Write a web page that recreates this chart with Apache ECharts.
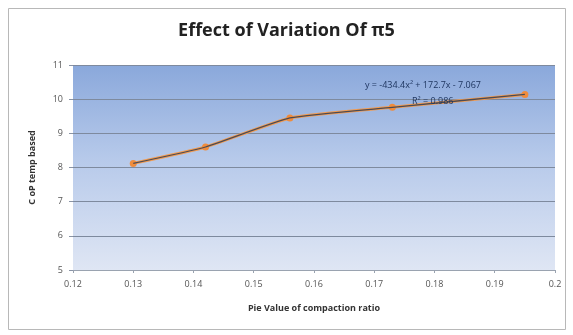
<!DOCTYPE html>
<html>
<head>
<meta charset="utf-8">
<script src="https://cdn.jsdelivr.net/npm/echarts@6/dist/echarts.min.js"></script>
<style>
  html, body { margin:0; padding:0; background:#fff; }
  #chart { width:573px; height:335px; }
</style>
</head>
<body>
<div id="chart"></div>
<script>
// compaction ratio (pi value) vs C oP temp based
var piValues = [0.130, 0.142, 0.156, 0.173, 0.195];
var copValues = [8.12, 8.60, 9.45, 9.76, 10.14];

var xTicks = [0.12, 0.13, 0.14, 0.15, 0.16, 0.17, 0.18, 0.19, 0.2];
var yTicks = [5, 6, 7, 8, 9, 10, 11];

var pairs = [];
for (var i = 0, l = piValues.length; i < l; i++) {
  pairs.push([piValues[i], copValues[i]]);
}

var myChart = echarts.init(document.getElementById('chart'));

var option = {
  backgroundColor: '#fff',
  animation: false,
  textStyle: { fontFamily: 'Open Sans' },
  title: {
    text: 'Effect of Variation Of \u03c05',
    left: 'center',
    top: 17,
    textStyle: { fontSize: 18, fontWeight: 'bold', color: '#222', fontFamily: 'Open Sans' }
  },
  graphic: [
    {
      type: 'rect',
      shape: { x: 8.5, y: 8.5, width: 557, height: 321 },
      style: { fill: 'none', stroke: '#b8b8b8', lineWidth: 1 },
      z: -1
    },
    {
      // plot area gradient
      type: 'rect',
      shape: { x: 73, y: 65, width: 482, height: 205 },
      style: {
        fill: new echarts.graphic.LinearGradient(0, 0, 0, 1, [
          { offset: 0, color: '#8aa8db' },
          { offset: 0.45, color: '#b6c9ea' },
          { offset: 1, color: '#dfe6f4' }
        ])
      },
      z: -1
    },
    {
      type: 'text',
      left: 365, top: 81,
      style: { text: 'y = -434.4x\u00b2 + 172.7x - 7.067', fontSize: 9, fill: '#1f3660', fontFamily: 'Open Sans' },
      z: 10
    },
    {
      type: 'text',
      left: 412, top: 97,
      style: { text: 'R\u00b2 = 0.986', fontSize: 9, fill: '#1f3660', fontFamily: 'Open Sans' },
      z: 10
    }
  ],
  grid: { left: 73, right: 18, top: 65, bottom: 65 },
  xAxis: {
    type: 'value',
    min: xTicks[0],
    max: xTicks[xTicks.length - 1],
    interval: 0.01,
    name: 'Pie Value of compaction ratio',
    nameLocation: 'middle',
    nameGap: 34,
    nameTextStyle: { fontSize: 9, fontWeight: 'bold', color: '#333' },
    axisLine: { lineStyle: { color: '#9aa3b0' } },
    axisTick: { show: true, length: 3, lineStyle: { color: '#9aa3b0' } },
    axisLabel: {
      fontSize: 9, color: '#555', margin: 10,
      formatter: function (v) { return String(Math.round(v * 100) / 100); }
    },
    splitLine: { show: false }
  },
  yAxis: {
    type: 'value',
    min: yTicks[0],
    max: yTicks[yTicks.length - 1],
    interval: 1,
    name: 'C oP temp based',
    nameLocation: 'middle',
    nameGap: 36,
    nameTextStyle: { fontSize: 9, fontWeight: 'bold', color: '#333' },
    axisLine: { show: false },
    axisTick: { show: true, length: 4, lineStyle: { color: '#8a94a6' } },
    axisLabel: { fontSize: 9, color: '#555', margin: 10 },
    splitLine: { lineStyle: { color: '#7e8a9e', width: 1 } }
  },
  series: [
    {
      name: 'data',
      type: 'line',
      data: pairs,
      smooth: 0.15,
      symbol: 'circle',
      symbolSize: 7,
      itemStyle: { color: '#f08c3c' },
      lineStyle: { color: '#f29a4e', width: 3 },
      z: 3
    },
    {
      name: 'trend',
      type: 'line',
      data: pairs,
      smooth: 0.15,
      symbol: 'none',
      lineStyle: { color: '#4b4b55', width: 1.3 },
      z: 4
    }
  ]
};

myChart.setOption(option);
</script>
</body>
</html>
